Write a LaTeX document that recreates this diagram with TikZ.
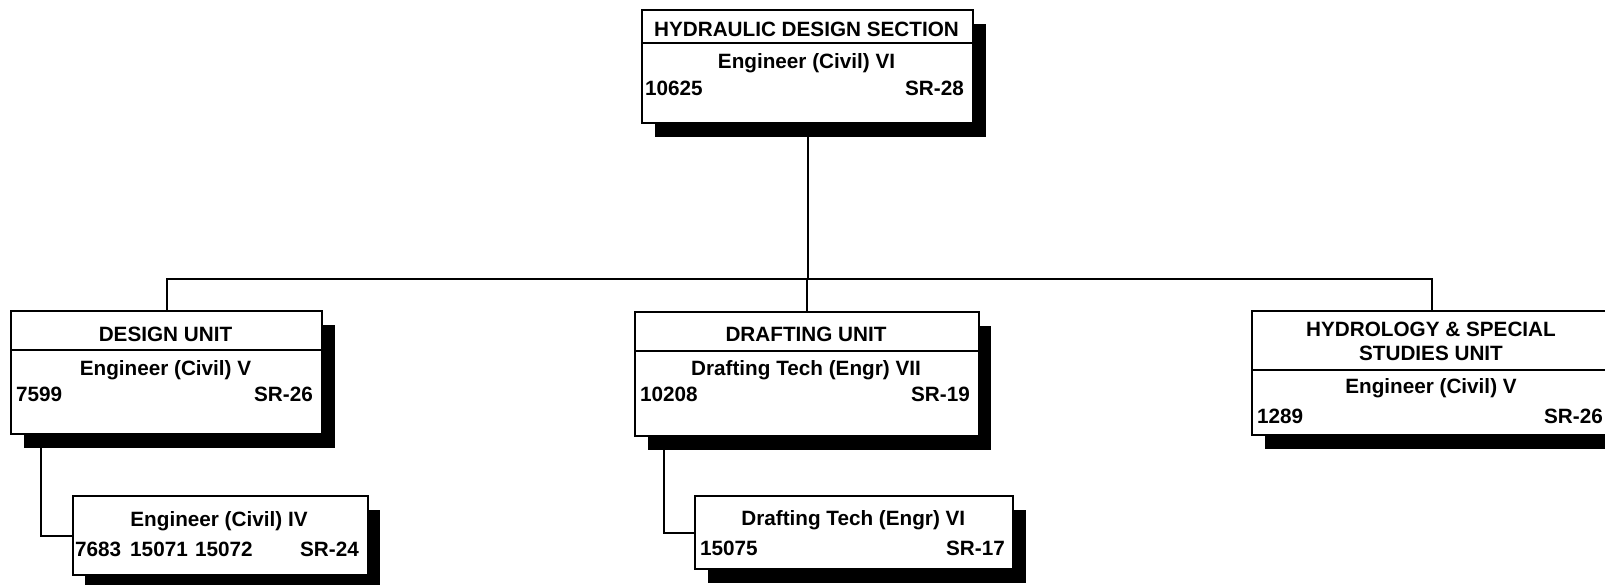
\documentclass[tikz,border=0pt]{standalone}
\usepackage{fontspec}
\setmainfont{Liberation Sans}
\usetikzlibrary{shadows}
\begin{document}
\begin{tikzpicture}[x=1pt,y=-1pt,
  unitbox/.style={draw=black, line width=2pt, fill=white, inner sep=0pt, anchor=north west,
    drop shadow={shadow xshift=12.5pt, shadow yshift=-13.5pt, opacity=1, fill=black}},
  txt/.style={inner sep=0pt, font=\bfseries\fontsize{20.7}{24}\selectfont},
  ctr/.style={txt, anchor=base},
  lft/.style={txt, anchor=base west},
  rgt/.style={txt, anchor=base east},
  link/.style={line width=2pt},
  divider/.style={line width=2pt}]
\useasboundingbox (0,0) rectangle (1605,584);
\clip (0,0) rectangle (1605,584);

% top box
\node[unitbox, minimum width=331pt, minimum height=113pt] (top) at (641,9) {};
\draw[divider] (641,43) -- (972,43);
\node[ctr] (topT) at (806.5,36.7) {HYDRAULIC DESIGN SECTION};
\node[ctr] (topJ) at (806.5,68) {Engineer (Civil) VI};
\node[lft] (topN) at (645,95) {10625};
\node[rgt] (topS) at (964,95) {SR-28};

% design unit
\node[unitbox, minimum width=311pt, minimum height=123pt] (design) at (10,310) {};
\draw[divider] (10,350) -- (321,350);
\node[ctr] (desT) at (165.5,341.7) {DESIGN UNIT};
\node[ctr] (desJ) at (165.5,375) {Engineer (Civil) V};
\node[lft] (desN) at (16,401.7) {7599};
\node[rgt] (desS) at (313,401.7) {SR-26};

% engineer IV
\node[unitbox, minimum width=295pt, minimum height=79pt] (eng4) at (71.7,495) {};
\node[ctr] (e4J) at (219,526.7) {Engineer (Civil) IV};
\node[lft] (e4N1) at (75,556.7) {7683};
\node[rgt] (e4N2) at (188,556.7) {15071};
\node[lft] (e4N3) at (195,556.7) {15072};
\node[rgt] (e4S) at (359,556.7) {SR-24};

% drafting unit
\node[unitbox, minimum width=343.5pt, minimum height=124pt] (drafting) at (634.3,311) {};
\draw[divider] (634.3,350.7) -- (977.8,350.7);
\node[ctr] (drT) at (806,341.7) {DRAFTING UNIT};
\node[ctr] (drJ) at (806,375) {Drafting Tech (Engr) VII};
\node[lft] (drN) at (640,401.7) {10208};
\node[rgt] (drS) at (970,401.7) {SR-19};

% drafting tech VI
\node[unitbox, minimum width=318pt, minimum height=73pt] (draft6) at (694.3,495) {};
\node[ctr] (d6J) at (853.3,525) {Drafting Tech (Engr) VI};
\node[lft] (d6N) at (700,555) {15075};
\node[rgt] (d6S) at (1005,555) {SR-17};

% hydrology unit
\node[unitbox, minimum width=360pt, minimum height=124pt] (hydro) at (1251,310) {};
\draw[divider] (1251,370) -- (1611,370);
\node[ctr] (hyT1) at (1431,336.7) {HYDROLOGY \& SPECIAL};
\node[ctr] (hyT2) at (1431,360) {STUDIES UNIT};
\node[ctr] (hyJ) at (1431,393) {Engineer (Civil) V};
\node[lft] (hyN) at (1257,423) {1289};
\node[rgt] (hyS) at (1603,423) {SR-26};

% connectors
\coordinate (bus) at (806.5,278.5);
\draw[link] (top.south) -- (top.south |- bus);
\draw[link] (design.north) |- (bus) -| (hydro.north);
\draw[link] (drafting.north) -- (drafting.north |- bus);
\draw[link] ([xshift=30.7pt]design.south west) |- (eng4.west);
\draw[link] ([xshift=30pt]drafting.south west) |- (draft6.west);
\end{tikzpicture}
\end{document}
